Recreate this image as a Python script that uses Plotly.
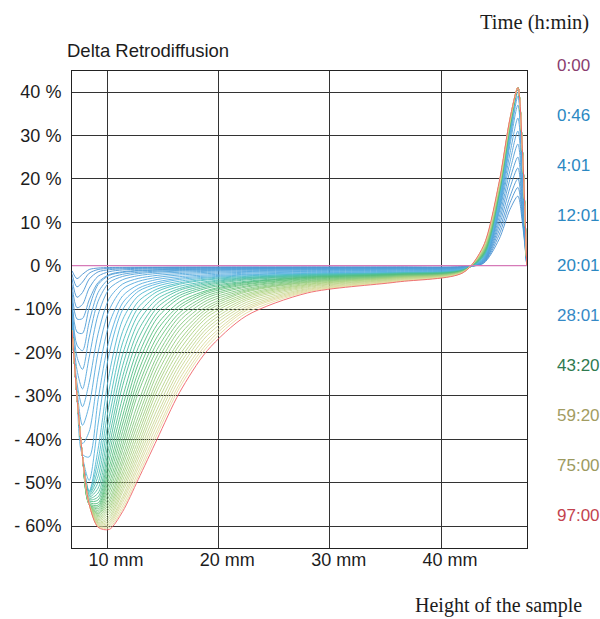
import plotly.graph_objects as go
from plotly.colors import sample_colorscale

# Sample height (mm) at which every profile is sampled
POSITION_MM = [6.86, 7.3, 7.8, 8.4, 9.2, 10.2, 11.4, 12.8, 14.5, 16.5, 19.0,
               22.5, 28.0, 36.0, 42.0, 43.8, 45.2, 46.2, 46.9, 47.3, 47.7]

# Reference scan (0:00): delta backscattering is zero everywhere
START_PROFILE = [0, 0, 0, 0, 0, 0, 0, 0, 0, 0, 0,
                 0, 0, 0, 0, 0, 0, 0, 0, 0, 0]

# Early scans (blue): the bottom dip deepens, the top peak grows
EARLY_PROFILES = [
    [-1.2, -3.0, -2.0, -0.9, -0.56, -0.44, -0.4, -0.37, -0.35, -0.33, -0.32, -0.31, -0.3, -0.3, -0.2, 0.5, 6, 13, 16, 10, 0],
    [-2.0, -4.9, -3.8, -1.75, -0.9, -0.65, -0.54, -0.48, -0.45, -0.42, -0.4, -0.38, -0.37, -0.36, -0.25, 0.6, 7, 14.5, 18, 11, 0],
    [-3.0, -7.3, -6.2, -3.1, -1.45, -0.95, -0.74, -0.64, -0.58, -0.53, -0.5, -0.47, -0.45, -0.43, -0.3, 0.7, 8, 16, 20, 12, 0],
    [-4.5, -9.7, -8.95, -5.2, -2.45, -1.4, -1.0, -0.84, -0.74, -0.66, -0.62, -0.58, -0.55, -0.52, -0.35, 0.8, 9, 18, 22.5, 13.5, 0],
    [-6.0, -12.3, -12.2, -7.9, -3.9, -2.06, -1.41, -1.11, -0.94, -0.83, -0.75, -0.69, -0.64, -0.6, -0.4, 0.9, 10, 20, 25, 15, 0],
    [-7.5, -15.3, -15.6, -9.7, -4.35, -2.25, -1.57, -1.24, -1.06, -0.93, -0.85, -0.76, -0.71, -0.66, -0.45, 1.0, 11, 22, 28, 17, 0],
    [-9.0, -18.3, -19.6, -13.0, -6.2, -3.0, -2.0, -1.54, -1.28, -1.1, -0.98, -0.88, -0.81, -0.75, -0.5, 1.1, 12, 24, 31, 19, 0],
    [-10.5, -21.0, -23.9, -16.5, -8.2, -3.9, -2.5, -1.85, -1.5, -1.27, -1.13, -1.01, -0.91, -0.84, -0.55, 1.2, 12.5, 26, 34, 21, 0],
    [-12.0, -24.0, -28.4, -21.1, -11.3, -5.35, -3.25, -2.32, -1.82, -1.54, -1.32, -1.18, -1.04, -0.94, -0.6, 1.3, 13, 28, 37, 23, 0],
    [-13.0, -27.0, -32.5, -26.9, -15.7, -7.6, -4.25, -2.95, -2.25, -1.85, -1.56, -1.37, -1.18, -1.07, -0.65, 1.4, 13.5, 29, 39, 24, 0],
    [-14.0, -28.5, -36.8, -32.2, -20.0, -10.2, -5.4, -3.65, -2.72, -2.17, -1.84, -1.54, -1.34, -1.19, -0.7, 1.5, 14, 30, 40, 24.5, 0],
    [-14.5, -29.3, -41.0, -38.2, -25.5, -13.4, -7.0, -4.45, -3.2, -2.55, -2.14, -1.76, -1.49, -1.31, -0.75, 1.6, 14.5, 30.5, 41, 25, 0],
    [-15.0, -29.8, -43.5, -44.1, -30.9, -17.0, -8.6, -5.27, -3.75, -2.9, -2.4, -2.0, -1.66, -1.45, -0.8, 1.7, 15, 31, 41, 25, 0],
    [-15.0, -30.0, -44.0, -49.5, -36.5, -20.2, -10.15, -5.95, -4.2, -3.2, -2.65, -2.15, -1.8, -1.55, -0.85, 1.8, 15.5, 31.5, 41, 25.5, 0],
]

# Later scans (green -> yellow -> red): the clarification front moves up
LATE_PROFILES = [
    [-15, -30, -44, -52.0, -42.3, -24.9, -12.5, -7.0, -4.75, -3.6, -2.85, -2.35, -1.94, -1.66, -0.9, 2.0, 16.0, 32.0, 41, 27, 0],
    [-15, -30, -44, -52.1, -44.8, -28.5, -15.2, -8.3, -5.4, -4.0, -3.1, -2.5, -2.0, -1.7, -0.92, 2.1, 16.1, 32.1, 41, 27, 0],
    [-15, -30, -44, -52.4, -46.8, -31.9, -17.8, -9.7, -6.0, -4.3, -3.3, -2.7, -2.1, -1.75, -0.95, 2.2, 16.2, 32.1, 41, 27, 0],
    [-15, -30, -44, -52.7, -48.5, -34.8, -20.5, -11.3, -6.8, -4.8, -3.65, -2.8, -2.2, -1.8, -0.97, 2.3, 16.3, 32.2, 41, 27, 0],
    [-15, -30, -44, -53.0, -50.0, -37.3, -23.1, -13.1, -7.7, -5.3, -3.9, -2.95, -2.3, -1.85, -1.0, 2.3, 16.4, 32.3, 41, 27, 0],
    [-15, -30, -44, -53.3, -51.3, -39.5, -25.6, -15.0, -8.7, -5.7, -4.2, -3.1, -2.4, -1.9, -1.02, 2.4, 16.5, 32.4, 41, 27, 0],
    [-15, -30, -44, -53.6, -52.4, -41.5, -27.7, -16.9, -9.7, -6.3, -4.5, -3.3, -2.5, -1.9, -1.04, 2.5, 16.6, 32.4, 41, 27, 0],
    [-15, -30, -44, -53.9, -53.3, -43.2, -30.4, -18.9, -10.9, -6.9, -4.85, -3.6, -2.6, -2.0, -1.07, 2.6, 16.7, 32.5, 41, 27, 0],
    [-15, -30, -44, -54.2, -54.0, -44.8, -32.6, -20.8, -12.1, -7.5, -5.2, -3.8, -2.7, -2.05, -1.09, 2.7, 16.8, 32.6, 41, 27, 0],
    [-15, -30, -44, -54.5, -54.7, -46.4, -34.7, -22.6, -13.6, -8.4, -5.7, -3.95, -2.8, -2.1, -1.12, 2.8, 16.9, 32.6, 41, 27, 0],
    [-15, -30, -44, -54.8, -55.2, -47.7, -36.5, -24.5, -14.9, -9.2, -6.0, -4.2, -2.95, -2.2, -1.14, 2.9, 17.0, 32.7, 41, 27, 0],
    [-15, -30, -44, -55.0, -55.6, -48.9, -38.2, -26.2, -16.4, -9.9, -6.4, -4.4, -3.05, -2.25, -1.16, 2.9, 17.1, 32.8, 41, 27, 0],
    [-15, -30, -44, -55.0, -56.0, -50.1, -39.8, -27.9, -17.8, -10.9, -6.9, -4.7, -3.2, -2.3, -1.19, 3.0, 17.2, 32.8, 41, 27, 0],
    [-15, -30, -44, -55.0, -56.4, -51.1, -41.3, -29.4, -19.3, -11.8, -7.4, -4.95, -3.35, -2.4, -1.21, 3.1, 17.3, 32.9, 41, 27, 0],
    [-15, -30, -44, -55.0, -56.8, -52.1, -42.6, -31.6, -20.8, -12.8, -8.0, -5.3, -3.5, -2.45, -1.24, 3.2, 17.4, 33.0, 41, 27, 0],
    [-15, -30, -44, -55.0, -57.1, -53.1, -44.0, -33.2, -22.1, -13.9, -8.6, -5.6, -3.65, -2.5, -1.26, 3.3, 17.5, 33.1, 41, 27, 0],
    [-15, -30, -44, -55.0, -57.3, -54.0, -45.2, -34.8, -23.6, -14.9, -9.3, -5.85, -3.8, -2.6, -1.28, 3.4, 17.6, 33.1, 41, 27, 0],
    [-15, -30, -44, -55.0, -57.6, -54.7, -46.3, -36.2, -25.0, -16.1, -9.9, -6.1, -3.9, -2.65, -1.31, 3.5, 17.7, 33.2, 41, 27, 0],
    [-15, -30, -44, -55.0, -57.9, -55.4, -47.5, -37.6, -26.5, -17.3, -10.5, -6.5, -4.1, -2.75, -1.33, 3.5, 17.8, 33.3, 41, 27, 0],
    [-15, -30, -44, -55.0, -58.2, -56.0, -48.5, -38.9, -27.7, -18.3, -11.2, -6.85, -4.3, -2.8, -1.36, 3.6, 17.9, 33.3, 41, 27, 0],
    [-15, -30, -44, -55.0, -58.5, -56.6, -49.5, -40.2, -28.9, -19.5, -11.9, -7.2, -4.45, -2.85, -1.38, 3.7, 18.0, 33.4, 41, 27, 0],
    [-15, -30, -44, -55.0, -58.8, -57.2, -50.5, -41.4, -30.4, -20.7, -12.8, -7.6, -4.65, -3.0, -1.4, 3.8, 18.1, 33.5, 41, 27, 0],
    [-15, -30, -44, -55.0, -59.1, -57.8, -51.4, -42.5, -31.7, -21.8, -13.6, -8.0, -4.85, -3.1, -1.43, 3.9, 18.2, 33.5, 41, 27, 0],
    [-15, -30, -44, -55.0, -59.3, -58.3, -52.2, -43.6, -33.1, -22.9, -14.4, -8.5, -5.05, -3.2, -1.45, 4.0, 18.3, 33.6, 41, 27, 0],
    [-15, -30, -44, -55.0, -59.5, -58.8, -53.2, -44.6, -34.4, -24.0, -15.2, -9.0, -5.3, -3.3, -1.48, 4.1, 18.4, 33.7, 41, 27, 0],
    [-15, -30, -44, -55.0, -59.7, -59.2, -53.9, -45.7, -35.5, -25.1, -16.1, -9.5, -5.5, -3.45, -1.5, 4.2, 18.5, 33.8, 41, 27, 0],
    [-15, -30, -44, -55.0, -59.9, -59.6, -54.6, -46.6, -36.7, -26.2, -17.1, -9.95, -5.7, -3.5, -1.52, 4.2, 18.6, 33.8, 41, 27, 0],
    [-15, -30, -44, -55.0, -60.1, -60.0, -55.4, -47.6, -37.9, -27.3, -17.9, -10.35, -5.9, -3.6, -1.55, 4.3, 18.7, 33.9, 41, 27, 0],
    [-15, -30, -44, -55.0, -60.2, -60.4, -56.1, -48.5, -38.9, -28.2, -18.7, -10.95, -6.05, -3.65, -1.57, 4.4, 18.8, 34.0, 41, 27, 0],
    [-15, -30, -44, -55.0, -60.3, -60.8, -56.7, -49.3, -40.0, -29.3, -19.6, -11.6, -6.3, -3.8, -1.6, 4.5, 19.0, 34.0, 41, 27, 0],
]

TIME_LABELS = ["0:00", "0:46", "4:01", "12:01", "20:01",
               "28:01", "43:20", "59:20", "75:00", "97:00"]
TIME_LABEL_COLORS = ["#8a3d6e", "#2b88c2", "#2b88c2", "#2b88c2", "#2b88c2",
                     "#3589c6", "#2f7a50", "#a29c62", "#9c9a5e", "#c3434e"]

Y_TICKS = [40, 30, 20, 10, 0, -10, -20, -30, -40, -50, -60]
Y_TICK_TEXT = ["40 %", "30 %", "20 %", "10 %", "0 %", "- 10%", "- 20%",
               "- 30%", "- 40%", "- 50%", "- 60%"]
X_TICKS = [10, 20, 30, 40]
X_TICK_TEXT = ["10 mm", "20 mm", "30 mm", "40 mm"]

# ---- page geometry -------------------------------------------------------
W, H = 600, 619
M_L, M_R, M_T, M_B = 72, 73, 71, 71
PLOT_W = W - M_L - M_R
PLOT_H = H - M_T - M_B

SANS = "Liberation Sans, Arial, Helvetica, sans-serif"
SERIF = "Liberation Serif, Times New Roman, serif"


def paper_xy(px, py):
    """Convert page pixel coordinates to paper coordinates."""
    return (px - M_L) / PLOT_W, (H - M_B - py) / PLOT_H


# colour ramp from the first scan (blue) through green to pale yellow
RAMP = [
    [0.00, "#4a92d2"],
    [0.30, "#5ab2e2"],
    [0.37, "#4cc0c2"],
    [0.55, "#55bf7e"],
    [0.80, "#add382"],
    [1.00, "#e8dea4"],
]
FINAL_COLOR = "#f06468"

profiles = EARLY_PROFILES + LATE_PROFILES
n = len(profiles)
colors = sample_colorscale(RAMP, [i / (n - 2) for i in range(n - 1)]) + [FINAL_COLOR]

fig = go.Figure()
for prof, col in zip(profiles, colors):
    fig.add_trace(go.Scatter(
        x=POSITION_MM, y=prof, mode="lines",
        line=dict(color=col, width=1, shape="spline", smoothing=0.8),
        opacity=0.9, hoverinfo="skip", showlegend=False,
    ))

fig.add_trace(go.Scatter(
    x=POSITION_MM, y=START_PROFILE, mode="lines",
    line=dict(color="#d67ab8", width=1.2),
    hoverinfo="skip", showlegend=False,
))

annotations = []
tx, ty = paper_xy(65, 51)
annotations.append(dict(x=tx, y=ty, xref="paper", yref="paper", text="Delta Retrodiffusion",
                        showarrow=False, xanchor="left", yanchor="middle",
                        font=dict(family=SANS, size=18.5, color="#1c1c1c")))
tx, ty = paper_xy(478, 22)
annotations.append(dict(x=tx, y=ty, xref="paper", yref="paper", text="Time (h:min)",
                        showarrow=False, xanchor="left", yanchor="middle",
                        font=dict(family=SERIF, size=20.5, color="#1c1c1c")))
tx, ty = paper_xy(413, 605)
annotations.append(dict(x=tx, y=ty, xref="paper", yref="paper", text="Height of the sample",
                        showarrow=False, xanchor="left", yanchor="middle",
                        font=dict(family=SERIF, size=20, color="#1c1c1c")))
for i, (lab, col) in enumerate(zip(TIME_LABELS, TIME_LABEL_COLORS)):
    tx, ty = paper_xy(555, 65 + 50 * i)
    annotations.append(dict(x=tx, y=ty, xref="paper", yref="paper", text=lab,
                            showarrow=False, xanchor="left", yanchor="middle",
                            font=dict(family=SANS, size=17, color=col)))

axis_common = dict(
    showgrid=True, gridcolor="#333333", gridwidth=1,
    showline=True, linecolor="#222222", linewidth=1, mirror=True,
    ticks="", zeroline=False,
    tickfont=dict(family=SANS, size=18, color="#1c1c1c"),
)

fig.update_layout(
    width=W, height=H,
    margin=dict(l=M_L, r=M_R, t=M_T, b=M_B, pad=0),
    paper_bgcolor="white", plot_bgcolor="white",
    xaxis=dict(range=[6.856, 47.72], tickmode="array", tickvals=X_TICKS,
               ticktext=X_TICK_TEXT, ticklabelshift=9, ticklabelstandoff=-5,
               **axis_common),
    yaxis=dict(range=[-65.07, 44.84], tickmode="array", tickvals=Y_TICKS,
               ticktext=Y_TICK_TEXT, ticklabelstandoff=6, **axis_common),
    annotations=annotations,
    showlegend=False,
)

fig.write_html("out.html")
